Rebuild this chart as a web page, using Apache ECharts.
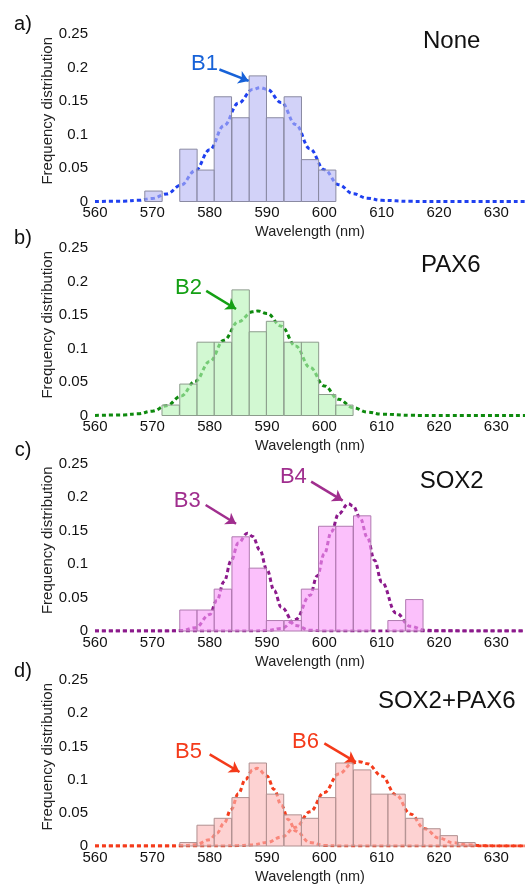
<!DOCTYPE html>
<html>
<head>
<meta charset="utf-8">
<script src="https://cdn.jsdelivr.net/npm/echarts@6/dist/echarts.min.js"></script>
<style>
html, body { margin: 0; padding: 0; background: #fff; }
#chart { width: 525px; height: 885px; }
</style>
</head>
<body>
<div id="chart"></div>
<script>
// histogram bins (centre of each bin, nm)
var binCenters = [570.2, 573.2, 576.3, 579.3, 582.3, 585.4, 588.4, 591.4, 594.5, 597.5,
                  600.5, 603.5, 606.6, 609.6, 612.6, 615.7, 618.7, 621.7, 624.8];
var BIN_W = 3.03;

// frequency distribution per bin
var freqNone = [0.0156, 0, 0.0781, 0.0469, 0.1563, 0.125, 0.1875, 0.125, 0.1563, 0.0625,
                0.0469, 0, 0, 0, 0, 0, 0, 0, 0];
var freqPax6 = [0, 0.0156, 0.0469, 0.1094, 0.1094, 0.1875, 0.125, 0.1406, 0.1094, 0.1094,
                0.0313, 0.0156, 0, 0, 0, 0, 0, 0, 0];
var freqSox2 = [0, 0, 0.0313, 0.0313, 0.0625, 0.1406, 0.0938, 0.0156, 0.0156, 0.0625,
                0.1563, 0.1563, 0.1719, 0, 0.0156, 0.0469, 0, 0, 0];
var freqBoth = [0, 0, 0.0052, 0.0313, 0.0417, 0.0729, 0.125, 0.0781, 0.0469, 0.0417,
                0.0729, 0.125, 0.1146, 0.0781, 0.0781, 0.0417, 0.026, 0.0156, 0.0052];

// gaussian fits [nm, value]
var fitB1 = [[560,0],[565,0.0005],[567.5,0.0017],[570,0.0046],[572.5,0.0113],[575,0.0244],[577.5,0.0462],
  [580,0.0772],[582.5,0.1134],[585,0.1467],[587.5,0.1671],[588.8,0.170],[590,0.1675],[592.5,0.1478],
  [595,0.1149],[597.5,0.0785],[600,0.0473],[602.5,0.0251],[605,0.0117],[607.5,0.0048],[610,0.0017],
  [615,0.0002],[620,0],[635,0]];
var fitB2 = [[560,0.0001],[565,0.0009],[567.5,0.0026],[570,0.0065],[572.5,0.0146],[575,0.0289],[577.5,0.0512],
  [580,0.0805],[582.5,0.1125],[585,0.140],[587.5,0.1548],[588.4,0.156],[590,0.1523],[592.5,0.1333],
  [595,0.1036],[597.5,0.0717],[600,0.0442],[602.5,0.0242],[605,0.0118],[607.5,0.0051],[610,0.002],
  [615,0.0002],[620,0],[635,0]];
var fitB3 = [[560,0],[572.5,0],[575,0.0006],[577.5,0.005],[580,0.0246],[581.25,0.0454],[582.5,0.0735],
  [583.75,0.105],[585,0.1315],[586.6,0.146],[587.5,0.1412],[588.75,0.121],[590,0.0911],[591.25,0.0604],
  [592.5,0.0353],[595,0.0082],[597.5,0.0011],[600,0.0001],[635,0]];
var fitB4 = [[560,0],[587.5,0],[590,0.0006],[592.5,0.0039],[595,0.0173],[597.5,0.0532],[598.75,0.082],
  [600,0.1153],[601.25,0.1485],[602.5,0.175],[604.2,0.190],[605,0.1866],[606.25,0.1687],[607.5,0.1396],
  [608.75,0.1057],[610,0.0733],[612.5,0.027],[615,0.007],[617.5,0.0013],[620,0.0002],[635,0]];
var fitB5 = [[560,0],[572.5,0],[575,0.0002],[577.5,0.0017],[580,0.0095],[581.25,0.019],[582.5,0.0343],
  [583.75,0.055],[585,0.0787],[586.25,0.1004],[587.5,0.1143],[588.3,0.117],[590,0.1053],[591.25,0.0851],
  [592.5,0.0615],[593.75,0.0396],[595,0.0227],[597.5,0.0053],[600,0.0008],[602.5,0.0001],[635,0]];
var fitB6 = [[560,0],[580,0],[582.5,0.0001],[585,0.0006],[587.5,0.0019],[590,0.0054],[592.5,0.0133],
  [595,0.0282],[597.5,0.0515],[600,0.0807],[602.5,0.1084],[605,0.1251],[606.1,0.127],[607.5,0.124],
  [610,0.1055],[612.5,0.0771],[615,0.0483],[617.5,0.026],[620,0.012],[622.5,0.0048],[625,0.0016],
  [627.5,0.0005],[630,0.0001],[635,0]];

var xTicks = { min: 560, max: 635, step: 10 };
var yTicks = { min: 0, max: 0.25, step: 0.05 };

var FONT = "'Liberation Sans', Arial, Helvetica, sans-serif";

// layout + look of each panel
var panels = [
  { letter: 'a)', title: 'None', hist: freqNone, fits: [fitB1], top: 34,
    titleAt: [451.7, 41.7],
    fill: 'rgba(182,182,244,0.62)', edge: '#8a8aa2', line: '#1f40f0', tagColor: '#1762d8',
    tags: [{ text: 'B1', at: [579.1, 0.205], from: [581.7, 0.197], to: [586.8, 0.180] }] },
  { letter: 'b)', title: 'PAX6', hist: freqPax6, fits: [fitB2], top: 248,
    titleAt: [450.8, 265],
    fill: 'rgba(182,244,182,0.62)', edge: '#8c9c8c', line: '#0e8a0e', tagColor: '#14a014',
    tags: [{ text: 'B2', at: [576.3, 0.191], from: [579.4, 0.186], to: [584.6, 0.159] }] },
  { letter: 'c)', title: 'SOX2', hist: freqSox2, fits: [fitB3, fitB4], top: 463.5,
    titleAt: [451.7, 481.7],
    fill: 'rgba(249,153,249,0.62)', edge: '#b07ab0', line: '#8c1a8c', tagColor: '#a02e8e',
    tags: [{ text: 'B3', at: [576.1, 0.194], from: [579.3, 0.188], to: [584.6, 0.160] },
           { text: 'B4', at: [594.6, 0.230], from: [597.7, 0.223], to: [603.2, 0.1945] }] },
  { letter: 'd)', title: 'SOX2+PAX6', hist: freqBoth, fits: [fitB5, fitB6], top: 680,
    titleAt: [446.7, 701.7],
    fill: 'rgba(252,182,182,0.62)', edge: '#b09090', line: '#f43c1c', tagColor: '#f43a1a',
    tags: [{ text: 'B5', at: [576.3, 0.141], from: [580.0, 0.138], to: [585.2, 0.1115] },
           { text: 'B6', at: [596.7, 0.156], from: [600.0, 0.1545], to: [605.5, 0.1264] }] }
];
var GRID_H = 167.5;

var grids = [], xAxes = [], yAxes = [], series = [], graphics = [];

panels.forEach(function (p, i) {
  grids.push({ left: 95, right: 0, top: p.top, height: GRID_H });
  xAxes.push({
    gridIndex: i, type: 'value', min: xTicks.min, max: xTicks.max, interval: xTicks.step,
    axisLine: { show: false }, axisTick: { show: false }, splitLine: { show: false },
    axisLabel: { fontSize: 15, color: '#111', margin: 4, fontFamily: FONT, showMaxLabel: false },
    name: 'Wavelength (nm)', nameLocation: 'middle', nameGap: 23,
    nameTextStyle: { fontSize: 14.5, color: '#222', fontFamily: FONT }
  });
  yAxes.push({
    gridIndex: i, type: 'value', min: yTicks.min, max: yTicks.max, interval: yTicks.step,
    axisLine: { show: false }, axisTick: { show: false }, splitLine: { show: false },
    axisLabel: { fontSize: 15, color: '#111', margin: 7, fontFamily: FONT }
  });

  // fitted curves first, so the translucent bars sit over them
  p.fits.forEach(function (fit, k) {
    var s = {
      type: 'line', xAxisIndex: i, yAxisIndex: i, data: fit,
      smooth: 0.4, smoothMonotone: 'x', showSymbol: false, z: 2, silent: true,
      lineStyle: { color: p.line, width: 3, type: [4, 3] }
    };
    var tag = p.tags[k];
    s.markLine = {
      silent: true, symbol: ['none', 'arrow'], symbolSize: 10,
      label: { show: false },
      lineStyle: { color: p.tagColor, width: 2.5, type: 'solid' },
      data: [[{ coord: tag.from }, { coord: tag.to }]]
    };
    s.markPoint = {
      silent: true, symbol: 'rect', symbolSize: 1,
      itemStyle: { color: 'rgba(0,0,0,0)' },
      label: { show: true, position: 'inside', formatter: '{b}', color: p.tagColor,
               fontSize: 22, fontFamily: FONT },
      data: [{ name: tag.text, coord: tag.at }]
    };
    series.push(s);
  });

  var histData = binCenters.map(function (c, j) { return [c, p.hist[j]]; });
  series.push({
    type: 'custom', xAxisIndex: i, yAxisIndex: i, data: histData, z: 3, silent: true,
    renderItem: function (params, api) {
      if (!api.value(1)) return null;
      var a = api.coord([api.value(0) - BIN_W / 2, api.value(1)]);
      var b = api.coord([api.value(0) + BIN_W / 2, 0]);
      return {
        type: 'rect',
        shape: { x: a[0], y: a[1], width: b[0] - a[0], height: b[1] - a[1] },
        style: { fill: p.fill, stroke: p.edge, lineWidth: 1 }
      };
    }
  });

  graphics.push({ type: 'text', x: 23, y: [24, 238, 450, 671][i],
    style: { text: p.letter, fontSize: 20, fontFamily: FONT, fill: '#111',
             align: 'center', verticalAlign: 'middle' } });
  graphics.push({ type: 'text', x: 47.5, y: p.top + GRID_H / 2 - 7, rotation: Math.PI / 2,
    style: { text: 'Frequency distribution', fontSize: 15, fontFamily: FONT, fill: '#222',
             align: 'center', verticalAlign: 'middle' } });
  graphics.push({ type: 'text', x: p.titleAt[0], y: p.titleAt[1],
    style: { text: p.title, fontSize: 24, fontFamily: FONT, fill: '#111',
             align: 'center', verticalAlign: 'middle' } });
});

var chart = echarts.init(document.getElementById('chart'));
chart.setOption({
  animation: false,
  backgroundColor: '#fff',
  grid: grids,
  xAxis: xAxes,
  yAxis: yAxes,
  series: series,
  graphic: graphics
});
</script>
</body>
</html>
